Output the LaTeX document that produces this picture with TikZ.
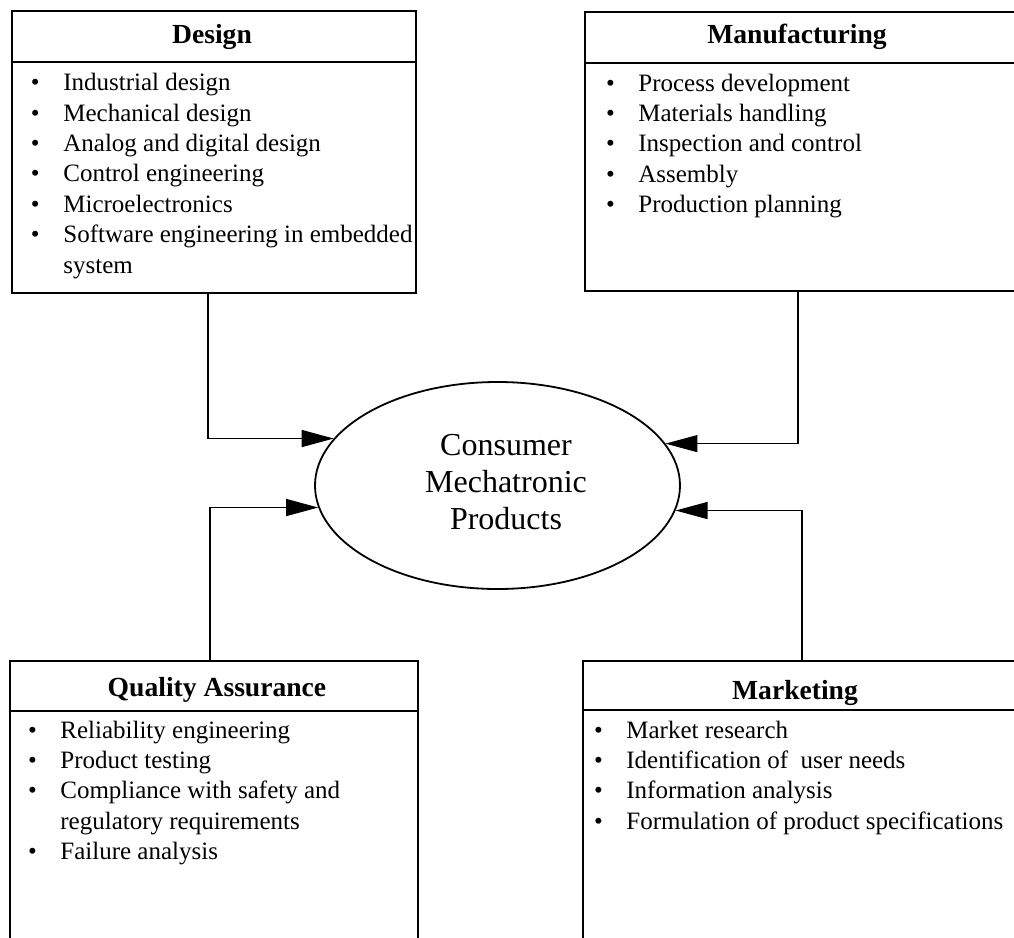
\documentclass[tikz,border=0pt]{standalone}
\usepackage{fontspec}
\setmainfont{Liberation Serif}
\usetikzlibrary{shapes.geometric,arrows.meta}

% fonts for the box headings, the bullet lists and the centre label
\newcommand{\listsize}{\fontsize{12.5}{15.2}\selectfont}
\newcommand{\headsize}{\fontsize{13.8}{16}\selectfont\bfseries}
\newcommand{\centresize}{\fontsize{16}{18.5}\selectfont}
% bullet list laid out as a two-column table: bullet, then text
\newenvironment{bulletlist}{\begin{tabular}[t]{@{}p{16.2pt}@{}l@{}}}{\end{tabular}}
\newcommand{\bul}{\textbullet &}

\begin{document}
\begin{tikzpicture}[x=0.5pt,y=-0.5pt,
  panel/.style={draw, line width=0.9pt, anchor=north west, inner sep=0pt, outer sep=0pt},
  rule/.style={line width=0.9pt},
  heading/.style={font=\headsize, inner sep=0pt, anchor=base},
  listtext/.style={font=\listsize, inner sep=0pt, anchor=base west},
  conn/.style={line width=0.65pt, -{Triangle[length=16pt,width=8.5pt]}}]

\useasboundingbox (0,0) rectangle (1014,938);

% department panels
\node[panel, minimum width=202pt, minimum height=141pt] (design) at (12,11) {};
\node[panel, minimum width=220pt, minimum height=139.5pt] (manuf) at (585,12) {};
\node[panel, minimum width=204pt, minimum height=150pt] (qa) at (10,661) {};
\node[panel, minimum width=221pt, minimum height=150pt] (mkt) at (583,661) {};

% heading separators
\draw[rule] ([yshift=-25.5pt]design.north west) -- ([yshift=-25.5pt]design.north east);
\draw[rule] ([yshift=-25.5pt]manuf.north west) -- ([yshift=-25.5pt]manuf.north east);
\draw[rule] ([yshift=-25pt]qa.north west) -- ([yshift=-25pt]qa.north east);
\draw[rule] ([yshift=-24.5pt]mkt.north west) -- ([yshift=-24.5pt]mkt.north east);

% headings
\node[heading] (designhead) at (212,43) {Design};
\node[heading] (manufhead) at (797,43) {Manufacturing};
\node[heading] (qahead) at (217,696) {Quality Assurance};
\node[heading] (mkthead) at (795,699) {Marketing};

% bullet lists
\node[listtext] (designlist) at (30.6,90.7) {\begin{bulletlist}
\bul Industrial design\\
\bul Mechanical design\\
\bul Analog and digital design\\
\bul Control engineering\\
\bul Microelectronics\\
\bul Software engineering in embedded\\
 & system
\end{bulletlist}};

\node[listtext] (manuflist) at (605.6,91) {\begin{bulletlist}
\bul Process development\\
\bul Materials handling\\
\bul Inspection and control\\
\bul Assembly\\
\bul Production planning
\end{bulletlist}};

\node[listtext] (qalist) at (27.6,738) {\begin{bulletlist}
\bul Reliability engineering\\
\bul Product testing\\
\bul Compliance with safety and\\
 & regulatory requirements\\
\bul Failure analysis
\end{bulletlist}};

\node[listtext] (mktlist) at (593.6,738) {\begin{bulletlist}
\bul Market research\\
\bul Identification of\ \ user needs\\
\bul Information analysis\\
\bul Formulation of product specifications
\end{bulletlist}};

% central product ellipse
\node[ellipse, draw, line width=0.9pt, minimum width=182.5pt, minimum height=103.5pt, inner sep=0pt] (prod) at (497.5,485.5) {};
\node[font=\centresize, align=center, inner sep=0pt] (prodtext) at (506,482) {Consumer\\Mechatronic\\Products};

% connectors into the ellipse
\draw[conn] ([xshift=-3pt]design.south) |- (prod.164.3);
\draw[conn] ([xshift=-3.5pt]manuf.south) |- (prod.14.2);
\draw[conn] ([xshift=-2pt]qa.north) |- (prod.187.1);
\draw[conn] ([xshift=-1pt]mkt.north) |- (prod.352.1);

\end{tikzpicture}
\end{document}
